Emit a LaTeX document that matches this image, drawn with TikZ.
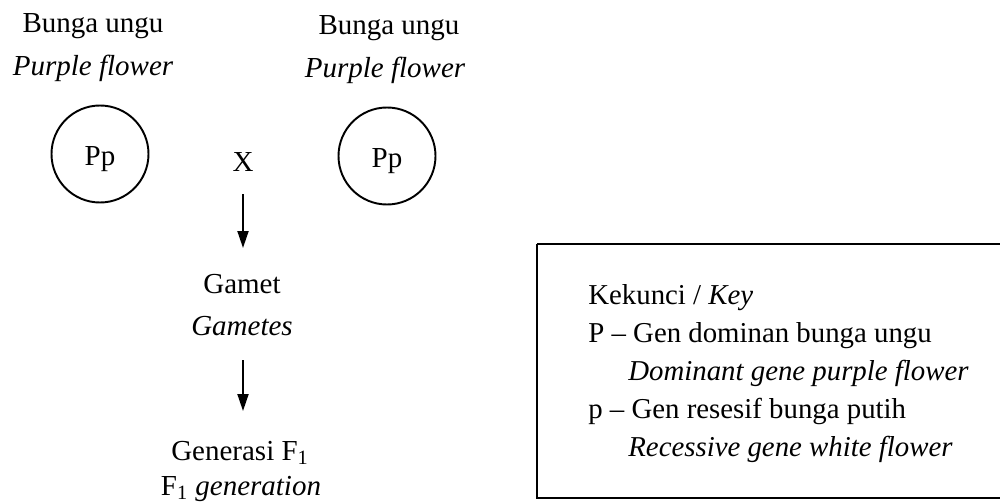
\documentclass[tikz,border=0pt]{standalone}
\usepackage{fontspec}
\setmainfont{Liberation Serif}
\usetikzlibrary{arrows.meta}
\tikzset{
  txt/.style={anchor=base, inner sep=0pt, font=\fontsize{16.5}{20}\selectfont},
  ktxt/.style={anchor=base west, inner sep=0pt, font=\fontsize{16.4}{20}\selectfont},
  parent/.style={draw, circle, line width=1.1pt, minimum size=97*0.2mm, inner sep=0pt},
  flow/.style={line width=1.1pt, -{Triangle[length=3.4mm,width=2.2mm]}},
  keybox/.style={draw, line width=1.1pt}
}
\begin{document}
\begin{tikzpicture}[x=0.2mm,y=-0.2mm]
\useasboundingbox (0,0) rectangle (1000,503);
% left parent
\node[txt] (l1) at (93,33) {Bunga ungu};
\node[txt] (l2) at (93,75) {\itshape Purple flower};
\node[parent] (lc) at (100,154) {};
\node[txt] (lp) at (100,165) {Pp};
% right parent
\node[txt] (r1) at (389,35) {Bunga ungu};
\node[txt] (r2) at (385,78) {\itshape Purple flower};
\node[parent] (rc) at (387,156) {};
\node[txt] (rp) at (387,167) {Pp};
% cross
\node[txt] (x) at (243,172) {X};
\coordinate (a1s) at (243,194);
\coordinate (a1e) at (243,248);
\draw[flow] (a1s) -- (a1e);
\node[txt] (g1) at (242,293) {Gamet};
\node[txt] (g2) at (242,335) {\itshape Gametes};
\coordinate (a2s) at (243,360);
\coordinate (a2e) at (243,411);
\draw[flow] (a2s) -- (a2e);
\node[txt] (f1) at (240,460) {Generasi F\textsubscript{1}};
\node[txt] (f2) at (241,495) {F\textsubscript{1} \itshape generation};
% key
\draw[keybox] (537,244) -- (1010,244) (537,244) -- (537,498) -- (1010,498);
\node[ktxt] (k0) at (588,304) {Kekunci / \itshape Key};
\node[ktxt] (k1) at (588,342) {P -- Gen dominan bunga ungu};
\node[ktxt] (k2) at (628,380) {\itshape Dominant gene purple flower};
\node[ktxt] (k3) at (588,418) {p -- Gen resesif bunga putih};
\node[ktxt] (k4) at (628,456) {\itshape Recessive gene white flower};
\end{tikzpicture}
\end{document}
